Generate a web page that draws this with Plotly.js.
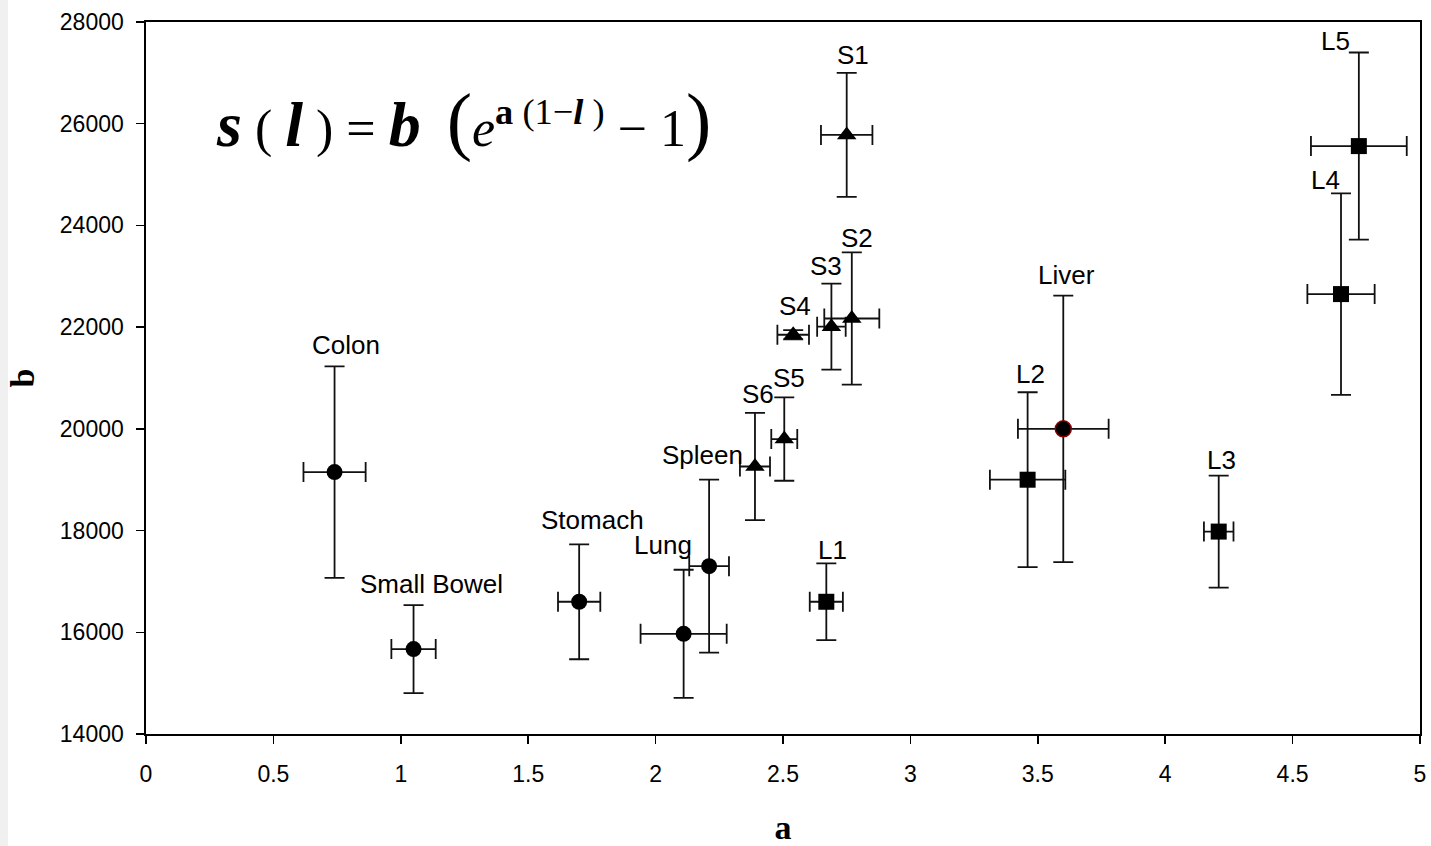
<!DOCTYPE html>
<html><head><meta charset="utf-8">
<script src="https://cdn.plot.ly/plotly-3.0.1.min.js"></script>
<style>html,body{margin:0;padding:0;background:#fff}</style>
</head><body><div id="chart" style="width:1431px;height:846px"></div>
<script>
// Organ data (circles)
const organNames = ["Colon","Small Bowel","Stomach","Lung","Spleen","Liver"];
const organA     = [0.74, 1.05, 1.70, 2.11, 2.21, 3.60];
const organB     = [19150, 15670, 16600, 15970, 17300, 20000];
const organAErr  = [0.122, 0.087, 0.083, 0.169, 0.078, 0.178];
const organBErr  = [2080, 865, 1130, 1260, 1700, 2620];

// S series (triangles)
const sNames = ["S1","S2","S3","S4","S5","S6"];
const sA     = [2.75, 2.77, 2.69, 2.54, 2.505, 2.39];
const sB     = [25780, 22170, 22010, 21850, 19800, 19260];
const sAErr  = [0.101, 0.108, 0.056, 0.062, 0.051, 0.059];
const sBErr  = [1220, 1300, 845, 90, 820, 1055];

// L series (squares)
const lNames = ["L1","L2","L3","L4","L5"];
const lA     = [2.67, 3.46, 4.21, 4.69, 4.76];
const lB     = [16600, 19000, 17980, 22650, 25560];
const lAErr  = [0.065, 0.148, 0.058, 0.132, 0.188];
const lBErr  = [755, 1720, 1100, 1980, 1840];

// Axis ticks
const xTicks = [0, 0.5, 1, 1.5, 2, 2.5, 3, 3.5, 4, 4.5, 5];
const xTickText = ["0","0.5","1","1.5","2","2.5","3","3.5","4","4.5","5"];
const yTicks = [14000, 16000, 18000, 20000, 22000, 24000, 26000, 28000];
const yTickText = ["14000","16000","18000","20000","22000","24000","26000","28000"];

// label placement (pixel offsets: horizontal shift, gap above error cap)
const labelStyle = {
  "Colon":[11,13], "Small Bowel":[18,13], "Stomach":[13,16], "Lung":[-21,17], "Spleen":[-7,17],
  "S1":[6,10], "S2":[5,6], "S3":[-5,10], "S4":[2,16], "S5":[5,11], "S6":[3,11],
  "L1":[6,5], "L2":[3,10], "Liver":[3,13], "L3":[3,8], "L4":[-16,5], "L5":[-23,4]
};
const DESC = 9;

const errStyle = (arr) => ({type:'data', array:arr, visible:true, color:'#111', thickness:1.8, width:10});

const traces = [
  {
    type:'scatter', mode:'markers', x:organA, y:organB, name:'Organs',
    marker:{symbol:'circle', size:16, color:'#000',
            line:{color:organNames.map(n => n==='Liver' ? '#8b0000' : '#000'), width:organNames.map(n => n==='Liver' ? 1.5 : 0)}},
    error_x:errStyle(organAErr), error_y:errStyle(organBErr)
  },
  {
    type:'scatter', mode:'markers', x:sA, y:sB, name:'S',
    marker:{symbol:'triangle-up', size:17, color:'#000', line:{width:0}},
    error_x:errStyle(sAErr), error_y:errStyle(sBErr)
  },
  {
    type:'scatter', mode:'markers', x:lA, y:lB, name:'L',
    marker:{symbol:'square', size:16, color:'#000', line:{width:0}},
    error_x:errStyle(lAErr), error_y:errStyle(lBErr)
  }
];

const annotations = [];
function addLabels(names, xs, ys, errs){
  names.forEach((n,i) => {
    const st = labelStyle[n];
    annotations.push({
      x:xs[i], y:ys[i]+errs[i], xref:'x', yref:'y', text:n, showarrow:false,
      xanchor:'center', yanchor:'bottom', xshift:st[0], yshift:st[1]-DESC,
      font:{family:'Liberation Sans, Arial, sans-serif', size:26, color:'#000'}
    });
  });
}
addLabels(organNames, organA, organB, organBErr);
addLabels(sNames, sA, sB, sBErr);
addLabels(lNames, lA, lB, lBErr);

const big = (t, s) => '<span style="font-size:'+s+'px">'+t+'</span>';
annotations.push({
  xref:'paper', yref:'paper', x:0.053, y:0.862, xanchor:'left', yanchor:'middle', showarrow:false,
  text: big('<b><i>s</i></b>',64)+' ( '+big('<b><i>l</i></b>',64)+' ) = '+big('<b><i>b</i></b>',64)+'&nbsp;&nbsp;'+
        big('(',76)+'<i>e</i><sup><b>a</b> (1−<b><i>l</i></b> )</sup> − 1'+big(')',76),
  font:{family:'Liberation Serif, Times New Roman, serif', size:52, color:'#000'}
});

const layout = {
  width:1431, height:846,
  margin:{l:146, r:11, t:22, b:112},
  paper_bgcolor:'#fff', plot_bgcolor:'#fff',
  showlegend:false,
  xaxis:{
    range:[0,5], tickvals:xTicks, ticktext:xTickText, ticks:'outside', ticklen:8, tickwidth:1.5, tickcolor:'#000',
    showline:true, linecolor:'#000', linewidth:1.6, mirror:true, showgrid:false, zeroline:false,
    tickfont:{family:'Liberation Sans, Arial, sans-serif', size:23, color:'#000'},
    ticklabelstandoff:11,
    title:{text:'<b>a</b>', font:{family:'Liberation Serif, Times New Roman, serif', size:34, color:'#000'}, standoff:32}
  },
  yaxis:{
    range:[14000,28000], tickvals:yTicks, ticktext:yTickText, ticks:'outside', ticklen:8, tickwidth:1.5, tickcolor:'#000',
    showline:true, linecolor:'#000', linewidth:1.6, mirror:true, showgrid:false, zeroline:false,
    tickfont:{family:'Liberation Sans, Arial, sans-serif', size:23, color:'#000'},
    ticklabelstandoff:8,
    title:{text:'<b>b</b>', font:{family:'Liberation Serif, Times New Roman, serif', size:34, color:'#000'}, standoff:15}
  },
  shapes:[{type:'rect', xref:'paper', yref:'paper', x0:-146/1274, x1:-138/1274, y0:-112/712, y1:1+22/712,
           fillcolor:'#f0f0f0', line:{width:0}, layer:'below'}],
  annotations:annotations
};

Plotly.newPlot('chart', traces, layout, {displayModeBar:false, staticPlot:true});
</script></body></html>
